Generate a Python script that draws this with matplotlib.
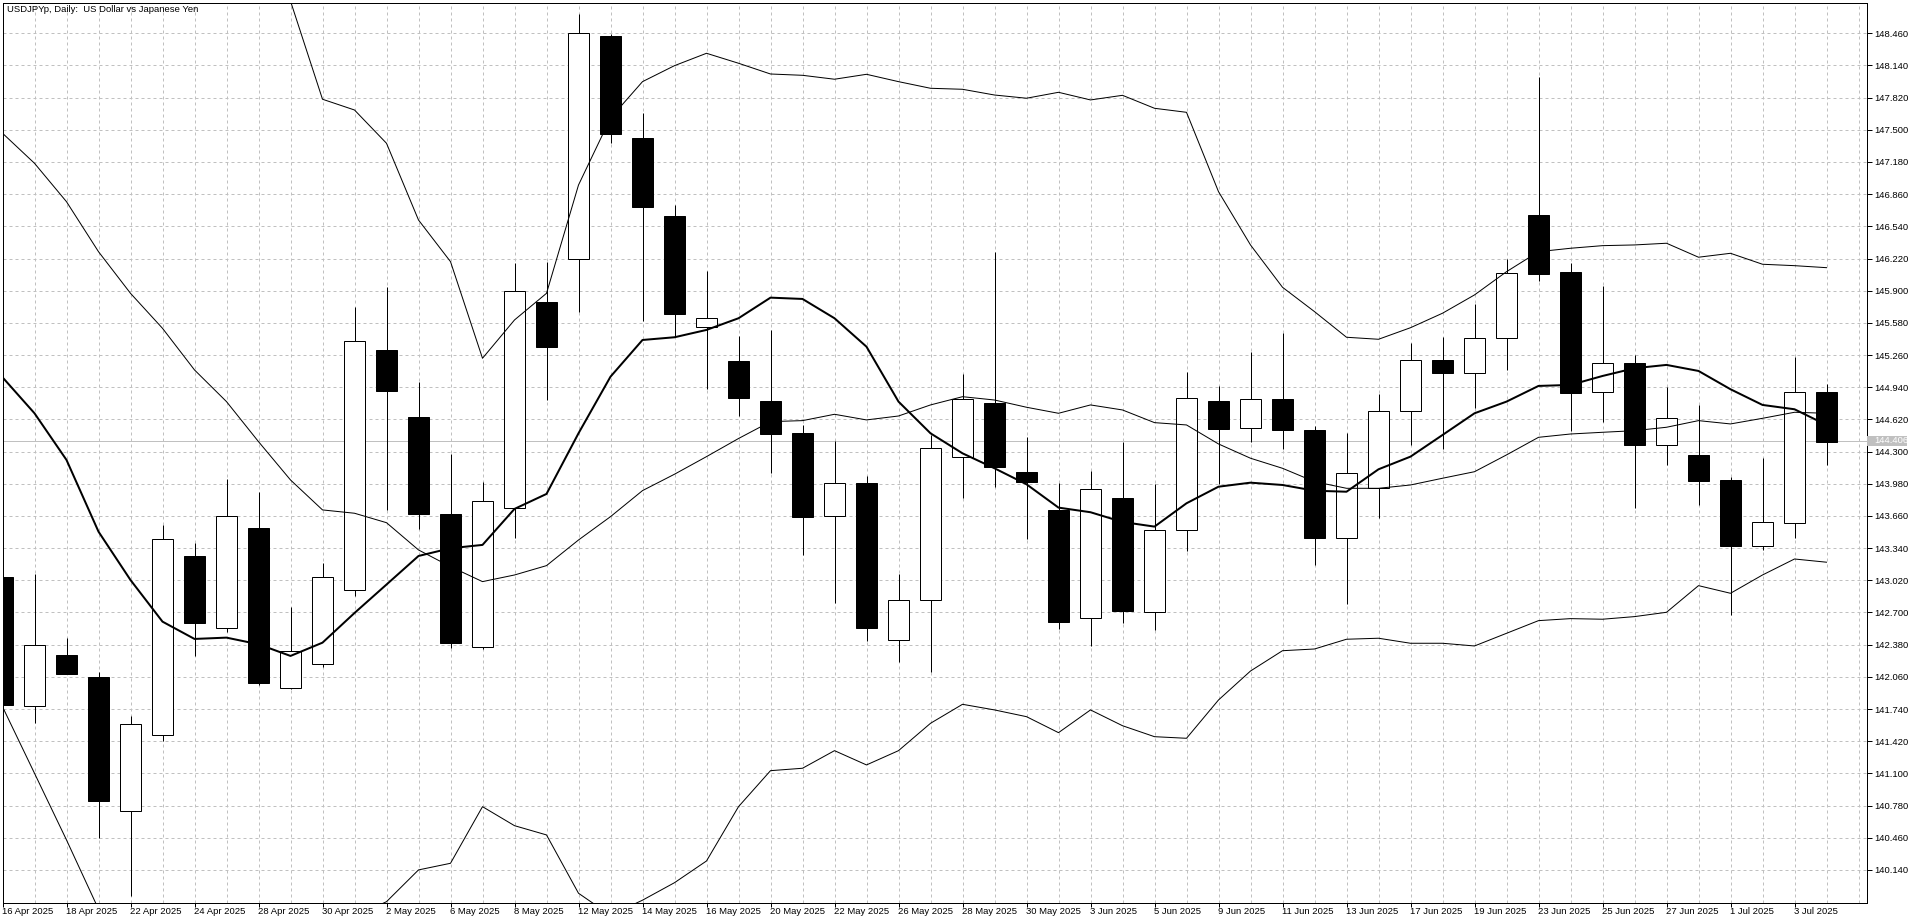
import numpy as np
import matplotlib
matplotlib.use("Agg")
import matplotlib.pyplot as plt
from matplotlib.patches import Rectangle
from matplotlib.transforms import blended_transform_factory

plt.rcParams["font.family"] = ["Liberation Sans", "DejaVu Sans"]

# ---- data ----
days = ["16 Apr", "17 Apr", "18 Apr", "21 Apr", "22 Apr", "23 Apr", "24 Apr", "25 Apr",
        "28 Apr", "29 Apr", "30 Apr", "1 May", "2 May", "5 May", "6 May", "7 May",
        "8 May", "9 May", "12 May", "13 May", "14 May", "15 May", "16 May", "19 May",
        "20 May", "21 May", "22 May", "23 May", "26 May", "27 May", "28 May", "29 May",
        "30 May", "2 Jun", "3 Jun", "4 Jun", "5 Jun", "6 Jun", "9 Jun", "10 Jun",
        "11 Jun", "12 Jun", "13 Jun", "16 Jun", "17 Jun", "18 Jun", "19 Jun", "20 Jun",
        "23 Jun", "24 Jun", "25 Jun", "26 Jun", "27 Jun", "30 Jun", "1 Jul", "2 Jul",
        "3 Jul", "4 Jul"]
date_labels = [d + " 2025" for d in days]

opens = [143.053, 141.767, 142.275, 142.059, 140.723, 141.479, 143.262, 142.543,
         143.538, 141.946, 142.185, 142.921, 145.311, 144.644, 143.680, 142.354,
         143.736, 145.785, 146.213, 148.433, 147.419, 146.643, 145.536, 145.201,
         144.803, 144.482, 143.657, 143.985, 142.424, 142.822, 144.244, 144.781,
         144.094, 143.719, 142.643, 143.839, 142.708, 143.521, 144.803, 144.532,
         144.823, 144.515, 143.444, 143.941, 144.701, 145.208, 145.085, 145.427,
         146.653, 146.083, 144.890, 145.178, 144.366, 144.267, 144.018, 143.364,
         143.587, 144.896]
highs = [143.100, 143.083, 142.444, 142.112, 141.668, 143.570, 143.391, 144.028,
         143.896, 142.755, 143.189, 145.741, 145.937, 144.995, 144.276, 143.995,
         146.173, 146.183, 148.652, 148.453, 147.664, 146.753, 146.096, 145.450,
         145.510, 144.565, 144.406, 144.058, 143.083, 144.465, 145.069, 146.282,
         144.448, 143.985, 144.107, 144.399, 143.978, 145.095, 144.953, 145.294,
         145.477, 144.555, 144.482, 144.873, 145.383, 145.437, 145.768, 146.213,
         148.028, 146.173, 145.947, 145.261, 144.946, 144.764, 144.051, 144.237,
         145.244, 144.970]
lows = [141.720, 141.598, 142.092, 140.458, 139.881, 141.425, 142.271, 142.509,
        141.979, 141.940, 142.161, 142.864, 143.720, 143.531, 142.350, 142.340,
        143.438, 144.813, 145.692, 147.372, 145.599, 145.443, 144.920, 144.654,
        144.084, 143.272, 142.792, 142.420, 142.211, 142.112, 143.842, 143.951,
        143.431, 142.533, 142.370, 142.599, 142.526, 143.315, 143.975, 144.399,
        144.323, 143.173, 142.785, 143.643, 144.366, 144.323, 144.731, 145.112,
        146.000, 144.508, 144.598, 143.736, 144.167, 143.769, 142.675, 143.322,
        143.438, 144.167]
closes = [141.783, 142.374, 142.092, 140.829, 141.588, 143.428, 142.599, 143.657,
          142.002, 142.314, 143.050, 145.397, 144.906, 143.683, 142.400, 143.806,
          145.897, 145.343, 148.460, 147.462, 146.736, 145.672, 145.626, 144.836,
          144.478, 143.653, 143.985, 142.549, 142.822, 144.333, 144.820, 144.150,
          144.001, 142.609, 143.925, 142.718, 143.521, 144.830, 144.528, 144.823,
          144.518, 143.444, 144.084, 144.701, 145.208, 145.085, 145.427, 146.073,
          146.069, 144.886, 145.178, 144.366, 144.631, 144.011, 143.364, 143.597,
          144.896, 144.399]

ma_line = [145.039, 144.681, 144.217, 143.504, 143.023, 142.609, 142.437, 142.450,
           142.384, 142.268, 142.400, 142.695, 142.978, 143.262, 143.339, 143.372,
           143.730, 143.879, 144.482, 145.045, 145.410, 145.437, 145.510, 145.626,
           145.831, 145.818, 145.626, 145.343, 144.797, 144.482, 144.283, 144.134,
           143.975, 143.743, 143.697, 143.600, 143.554, 143.786, 143.951, 143.991,
           143.968, 143.911, 143.901, 144.124, 144.250, 144.465, 144.681, 144.797,
           144.953, 144.963, 145.052, 145.129, 145.162, 145.102, 144.920, 144.764,
           144.721, 144.565]
bb_mid = [147.466, 147.167, 146.785, 146.288, 145.874, 145.526, 145.112, 144.797,
          144.399, 144.018, 143.720, 143.687, 143.593, 143.322, 143.156, 143.007,
          143.073, 143.166, 143.421, 143.653, 143.912, 144.075, 144.250, 144.430,
          144.598, 144.608, 144.671, 144.615, 144.654, 144.764, 144.846, 144.813,
          144.741, 144.681, 144.764, 144.714, 144.588, 144.565, 144.376, 144.234,
          144.134, 144.001, 143.935, 143.935, 143.968, 144.035, 144.100, 144.267,
          144.442, 144.475, 144.492, 144.508, 144.542, 144.608, 144.575, 144.631,
          144.691, 144.681]
bb_up = [153.170, 153.230, 153.130, 152.830, 152.300, 151.700, 151.000, 150.400,
         149.600, 148.780, 147.804, 147.697, 147.366, 146.603, 146.189, 145.228,
         145.609, 145.874, 146.951, 147.617, 147.979, 148.138, 148.261, 148.162,
         148.055, 148.042, 148.003, 148.052, 147.979, 147.913, 147.903, 147.846,
         147.814, 147.873, 147.797, 147.843, 147.714, 147.674, 146.885, 146.355,
         145.934, 145.692, 145.437, 145.417, 145.532, 145.676, 145.858, 146.089,
         146.288, 146.322, 146.348, 146.355, 146.372, 146.233, 146.272, 146.163,
         146.149, 146.129]
bb_low = [141.763, 141.101, 140.438, 139.750, 139.450, 139.350, 139.220, 139.190,
          139.200, 139.250, 139.636, 139.677, 139.824, 140.140, 140.206, 140.769,
          140.580, 140.488, 139.908, 139.689, 139.839, 140.013, 140.229, 140.769,
          141.127, 141.151, 141.326, 141.184, 141.326, 141.598, 141.787, 141.731,
          141.664, 141.505, 141.731, 141.574, 141.465, 141.449, 141.830, 142.118,
          142.320, 142.337, 142.434, 142.444, 142.394, 142.394, 142.367, 142.493,
          142.619, 142.639, 142.633, 142.659, 142.702, 142.967, 142.891, 143.073,
          143.232, 143.200]

price_labels = ["140.140", "140.460", "140.780", "141.100", "141.420", "141.740",
                "142.060", "142.380", "142.700", "143.020", "143.340", "143.660",
                "143.980", "144.300", "144.620", "144.940", "145.260", "145.580",
                "145.900", "146.220", "146.540", "146.860", "147.180", "147.500",
                "147.820", "148.140", "148.460"]
bid = 144.406
title = "USDJPYp, Daily:  US Dollar vs Japanese Yen"

# ---- layout ----
W, H = 1920, 923
PX = 0.72  # one pixel in points at dpi 100
GRID = "#c0c0c0"
FS = 6.8

fig = plt.figure(figsize=(W / 100, H / 100), dpi=100)
L, R, T, B = 2.5, 1866.5, 2.5, 902.5
ax = fig.add_axes([L / W, 1 - B / H, (R - L) / W, (B - T) / H])
ax.set_xlim(0, 58.25)
ax.set_ylim(139.816, 148.766)

x = np.arange(len(opens))
o = np.array(opens)
c = np.array(closes)
levels = [float(s) for s in price_labels]

# grid
for i in range(0, 59):
    ax.axvline(i, color=GRID, lw=PX, ls=(0, (3, 3)), zorder=1)
for lv in levels:
    ax.axhline(lv, color=GRID, lw=PX, ls=(0, (3, 3)), zorder=1)
ax.axhline(bid, color=GRID, lw=PX, zorder=1.5)

# candles
ax.vlines(x, lows, highs, color="black", lw=PX, zorder=3)
up = c >= o
ax.bar(x, np.abs(c - o), bottom=np.minimum(o, c), width=0.66,
       color=np.where(up, "white", "black"), edgecolor="black", lw=PX, zorder=4)

# indicators
for band in (bb_up, bb_mid, bb_low):
    ax.plot(x, band, color="black", lw=PX, zorder=5)
ax.plot(x, ma_line, color="black", lw=2 * PX, zorder=6)

# axes / ticks
for s in ax.spines.values():
    s.set_color("black")
    s.set_linewidth(PX)
ax.yaxis.tick_right()
ax.set_yticks(levels)
ax.set_yticklabels(price_labels)
ax.set_xticks(x[::2])
ax.set_xticklabels(date_labels[::2], ha="left")
ax.tick_params(axis="y", length=5 * PX, width=PX, pad=2.3 * PX, labelsize=FS, colors="black")
ax.tick_params(axis="x", length=4 * PX, width=PX, pad=0.3, labelsize=FS, colors="black")

# bid label on the price scale
tr = blended_transform_factory(ax.transAxes, ax.transData)
ax.add_patch(Rectangle((1.0002, bid - 5.3 / 100.56), 40 / (R - L), 10.6 / 100.56,
                       transform=tr, facecolor=GRID, edgecolor="none", clip_on=False, zorder=10))
ax.text(1.0040, bid, f"{bid:.3f}", transform=tr, ha="left", va="center",
        color="white", fontsize=FS, zorder=11, clip_on=False)

fig.text(6.7 / W, 1 - 10 / H, title, ha="left", va="center", fontsize=FS, color="black")

fig.savefig("out.png", dpi=100, facecolor="white")
